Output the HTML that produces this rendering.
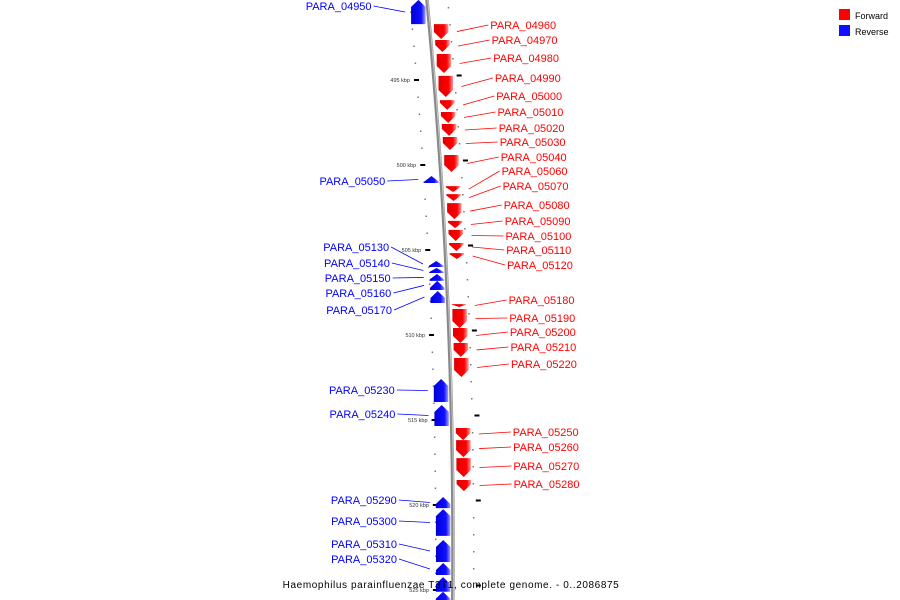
<!DOCTYPE html>
<html><head><meta charset="utf-8"><style>
html,body{margin:0;padding:0;background:#fff;}
svg{display:block;font-family:"Liberation Sans",sans-serif;}
</style></head><body>
<svg id="chart" width="900" height="600" viewBox="0 0 900 600">
<defs>
<linearGradient id="gr" x1="0" x2="1" y1="0" y2="0"><stop offset="0" stop-color="#e00000"/><stop offset="0.7" stop-color="#ff0000"/><stop offset="1" stop-color="#ff9a9a"/></linearGradient>
<linearGradient id="gb" x1="0" x2="1" y1="0" y2="0"><stop offset="0" stop-color="#0000d8"/><stop offset="0.7" stop-color="#1010ff"/><stop offset="1" stop-color="#a0a0ff"/></linearGradient>
</defs>
<g id="ticks"></g>
<path id="backbone" fill="none" stroke="#888" stroke-width="3.5"/>
<path id="backbone2" fill="none" stroke="#c8c8c8" stroke-width="1"/>
<g id="genes"></g>
<g id="labels"></g>
<g>
<rect x="839" y="9" width="11" height="11" fill="#ff0000"/>
<text x="855" y="19" font-size="9" fill="#000">Forward</text>
<rect x="839" y="25" width="11" height="11" fill="#1010ff"/>
<text x="855" y="35" font-size="9" fill="#000">Reverse</text>
</g>
<text x="451" y="588" font-size="10" text-anchor="middle" letter-spacing="0.6" fill="#000">Haemophilus parainfluenzae T3T1, complete genome. - 0..2086875</text>
</svg>
<script>
const geneNames=["PARA_04950","PARA_04960","PARA_04970","PARA_04980","PARA_04990","PARA_05000","PARA_05010","PARA_05020","PARA_05030","PARA_05040","PARA_05050","PARA_05060","PARA_05070","PARA_05080","PARA_05090","PARA_05100","PARA_05110","PARA_05120","PARA_05130","PARA_05140","PARA_05150","PARA_05160","PARA_05170","PARA_05180","PARA_05190","PARA_05200","PARA_05210","PARA_05220","PARA_05230","PARA_05240","PARA_05250","PARA_05260","PARA_05270","PARA_05280","PARA_05290","PARA_05300","PARA_05310","PARA_05320","",""];
const geneStrand=[-1,1,1,1,1,1,1,1,1,1,-1,1,1,1,1,1,1,1,-1,-1,-1,-1,-1,1,1,1,1,1,-1,-1,1,1,1,1,-1,-1,-1,-1,-1,-1];
const geneStartKbp=[490.29,491.71,492.65,493.47,494.76,496.18,496.88,497.59,498.35,499.41,500.65,501.24,501.71,502.24,503.29,503.82,504.59,505.18,505.65,506.06,506.41,506.82,507.41,508.18,508.47,509.59,510.47,511.35,512.59,514.12,515.47,516.18,517.24,518.53,519.53,520.24,522.06,523.41,524.24,525.10];
const geneEndKbp=[491.71,492.59,493.35,494.59,496.00,496.76,497.53,498.29,499.12,500.41,501.06,501.59,502.12,503.18,503.71,504.47,505.06,505.53,506.00,506.35,506.82,507.35,508.12,508.35,509.59,510.47,511.29,512.47,513.94,515.35,516.18,517.18,518.35,519.18,520.18,521.82,523.35,524.12,525.10,525.90];
const labelY=[6,25,40,58,78,96,112,128,142,157,181,171,186,205,221,236,250,265,247,263,278,293,310,300,318,332,347,364,390,414,432,447,466,484,500,521,544,559,0,0];
const tickLabels=["495 kbp","500 kbp","505 kbp","510 kbp","515 kbp","520 kbp","525 kbp"];
const tickKbp=[495,500,505,510,515,520,525];

const NS="http://www.w3.org/2000/svg";
function yScale(k){return 80+(k-495)*17;}
function lineX(y){return 453-(y-550)*(y-550)/11635;}
function mk(tag,attrs,parent){const e=document.createElementNS(NS,tag);for(const k in attrs)e.setAttribute(k,attrs[k]);parent.appendChild(e);return e;}

let d="";for(let y=-5;y<=605;y+=5){d+=(y===-5?"M":"L")+lineX(y).toFixed(2)+" "+y+" ";}
document.getElementById("backbone").setAttribute("d",d);
let d2="";for(let y=-5;y<=605;y+=5){d2+=(y===-5?"M":"L")+(lineX(y)+0.8).toFixed(2)+" "+y+" ";}
document.getElementById("backbone2").setAttribute("d",d2);

const tg=document.getElementById("ticks");
for(let k=489;k<=526;k++){
  const yl=yScale(k), yr=yScale(k)-4.5;
  if(tickKbp.indexOf(k)<0){
    const a=mk("rect",{x:lineX(yl)-18,y:yl-0.5,width:1.5,height:1.5,fill:"#777"},tg);
    
    
    const b=mk("rect",{x:lineX(yr)+20,y:yr-0.5,width:1.5,height:1.5,fill:"#777"},tg);
    
    
  }
}
tickKbp.forEach((k,i)=>{
  const y=yScale(k);
  const a=mk("rect",{x:lineX(y)-20,y:y-1,width:5,height:2,fill:"#000"},tg);
  
  
  const yr=y-4.5;
  const b=mk("rect",{x:lineX(yr)+23,y:yr-1,width:5,height:2,fill:"#000"},tg);
  
  
  const t=mk("text",{x:lineX(y)-24,y:y+2,"font-size":"5.5","text-anchor":"end",fill:"#333"},tg);
  t.textContent=tickLabels[i];
  
  
});

const gg=document.getElementById("genes"), lg=document.getElementById("labels");
geneNames.forEach((name,i)=>{
  const y0=yScale(geneStartKbp[i]), y1=yScale(geneEndKbp[i]);
  const ym=(y0+y1)/2, lx=lineX(ym);
  const fwd=geneStrand[i]>0;
  const x0=fwd?lx+4:lx-17, x1=x0+14.5, xm=(x0+x1)/2;
  const h=Math.min(7,(y1-y0)*0.8);
  let pts;
  if(fwd) pts=[[x0,y0],[x1,y0],[x1,y1-h],[xm,y1],[x0,y1-h]];
  else pts=[[xm,y0],[x1,y0+h],[x1,y1],[x0,y1],[x0,y0+h]];
  const p=mk("polygon",{points:pts.map(q=>q[0].toFixed(1)+","+q[1].toFixed(1)).join(" "),fill:fwd?"url(#gr)":"url(#gb)"},gg);
  
  
  if(!name) return;
  const ly=labelY[i], llx=lineX(ly);
  const col=fwd?"#ff0000":"#0000ff";
  const ln=mk("line",fwd?{x1:lineX(ym)+27,y1:ym,x2:llx+59,y2:ly}:{x1:lineX(ym)-23,y1:ym,x2:llx-54,y2:ly},lg);
  ln.setAttribute("stroke",col);ln.setAttribute("stroke-width","0.8");
  
  
  const t=mk("text",{x:fwd?llx+61:llx-56,y:ly+4,"font-size":"11","text-anchor":fwd?"start":"end",fill:col},lg);
  t.textContent=name;
  
  
});
</script>
</body></html>
